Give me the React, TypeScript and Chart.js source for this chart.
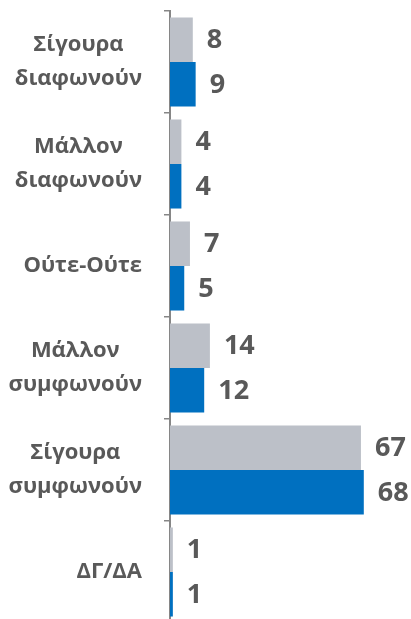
import React, { useEffect, useRef } from "react";
import { Chart, registerables } from "chart.js";

Chart.register(...registerables);

const categories: string[][] = [
  ["Σίγουρα", "διαφωνούν"],
  ["Μάλλον", "διαφωνούν"],
  ["Ούτε-Ούτε"],
  ["Μάλλον", "συμφωνούν"],
  ["Σίγουρα", "συμφωνούν"],
  ["ΔΓ/ΔΑ"],
];
const seriesGray: number[] = [8, 4, 7, 14, 67, 1];
const seriesBlue: number[] = [9, 4, 5, 12, 68, 1];

const GRAY = "#BCC0C8";
const BLUE = "#0070C0";
const TEXT = "#595959";
const AXIS = "#868686";

const valueLabels = {
  id: "valueLabels",
  afterDatasetsDraw(chart: any) {
    const ctx = chart.ctx;
    ctx.save();
    ctx.font = "bold 27px 'Open Sans'";
    ctx.fillStyle = TEXT;
    ctx.textAlign = "left";
    ctx.textBaseline = "middle";
    chart.data.datasets.forEach((ds: any, di: number) => {
      const meta = chart.getDatasetMeta(di);
      meta.data.forEach((bar: any, i: number) => {
        ctx.fillText(String(ds.data[i]), bar.x + 14, bar.y + 1);
      });
    });
    ctx.restore();
  },
};

const categoryLabels = {
  id: "categoryLabels",
  afterDraw(chart: any) {
    const ctx = chart.ctx;
    const scale = chart.scales.y;
    ctx.save();
    ctx.font = "bold 22px 'Open Sans'";
    ctx.fillStyle = TEXT;
    ctx.textAlign = "center";
    ctx.textBaseline = "middle";
    const rightEdge = scale.right - 28;
    const lineH = 34;
    (chart.data.labels as string[][]).forEach((lines, i) => {
      const yc = scale.getPixelForTick(i);
      const w = Math.max(...lines.map((l) => ctx.measureText(l).width));
      const xc = rightEdge - w / 2;
      const y0 = yc - ((lines.length - 1) * lineH) / 2;
      lines.forEach((l, k) => ctx.fillText(l, xc, y0 + k * lineH));
    });
    ctx.restore();
  },
};

export default function App() {
  const ref = useRef<HTMLCanvasElement>(null);
  useEffect(() => {
    if (!ref.current) return;
    const chart = new Chart(ref.current, {
      type: "bar",
      data: {
        labels: categories,
        datasets: [
          { data: seriesGray, backgroundColor: GRAY, borderWidth: 0 },
          { data: seriesBlue, backgroundColor: BLUE, borderWidth: 0 },
        ],
      },
      options: {
        indexAxis: "y",
        responsive: false,
        animation: false,
        layout: { padding: { top: 11, bottom: 3, right: 13, left: 0 } },
        plugins: { legend: { display: false }, tooltip: { enabled: false } },
        datasets: { bar: { barPercentage: 1, categoryPercentage: 0.873 } },
        scales: {
          x: { display: false, min: 0, max: 80 },
          y: {
            afterFit: (s: any) => {
              s.width = 170;
              s.paddingTop = 0;
              s.paddingBottom = 0;
            },
            border: { color: AXIS, width: 2 },
            grid: {
              drawOnChartArea: false,
              drawTicks: true,
              tickLength: 6,
              color: AXIS,
              lineWidth: 1.5,
              offset: true,
            },
            ticks: { display: false },
          },
        },
      },
      plugins: [valueLabels, categoryLabels],
    });
    return () => chart.destroy();
  }, []);
  return (
    <div style={{ position: "fixed", left: 0, top: 0, width: 411, height: 619, overflow: "hidden", background: "#fff" }}>
      <canvas ref={ref} width={411} height={626} style={{ display: "block" }} />
    </div>
  );
}
